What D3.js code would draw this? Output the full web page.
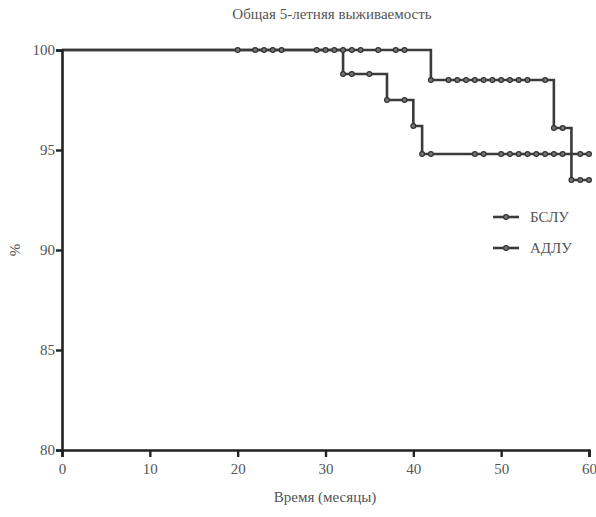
<!DOCTYPE html>
<html>
<head>
<meta charset="utf-8">
<script src="https://cdn.jsdelivr.net/npm/d3@7"></script>
<style>
  body { margin: 0; background: #fff; }
</style>
</head>
<body>
<div id="chart"></div>
<script>
let width = 596
let height = 517

// -- data
let seriesNames = ['БСЛУ', 'АДЛУ']
// steps: [time, survival %]
let bsluSteps = [[0, 100], [42, 98.5], [56, 96.1], [58, 93.5], [60, 93.5]]
let bsluCensored = [20, 22, 23, 24, 25, 29, 30, 31, 32, 33, 34, 36, 38, 39, 42, 44, 45, 46, 47, 48, 49, 50, 51, 52, 53, 55, 56, 57, 58, 59, 60]
let adluSteps = [[0, 100], [32, 98.8], [37, 97.5], [40, 96.2], [41, 94.8], [60, 94.8]]
let adluCensored = [32, 33, 35, 37, 39, 40, 41, 42, 47, 48, 50, 51, 52, 53, 54, 55, 56, 57, 59, 60]
let xTicks = [0, 10, 20, 30, 40, 50, 60]
let yTicks = [80, 85, 90, 95, 100]

let margin = {left: 62, right: 7, top: 50, bottom: 67}
let font = "'Liberation Serif'"
let textColor = '#555'

let svg = d3.select('#chart').append('svg')
  .attr('width', width)
  .attr('height', height)

let xScale = d3.scaleLinear().domain([0, 60]).range([margin.left, width - margin.right])
let yScale = d3.scaleLinear().domain([80, 100]).range([height - margin.bottom, margin.top])

// value at time t for a step curve
function stepValue(steps, t) {
  let v = steps[0][1]
  steps.forEach(s => { if (s[0] <= t) v = s[1] })
  return v
}

let line = d3.line()
  .x(d => xScale(d[0]))
  .y(d => yScale(d[1]))
  .curve(d3.curveStepAfter)

let series = [
  {name: seriesNames[0], steps: bsluSteps, cens: bsluCensored},
  {name: seriesNames[1], steps: adluSteps, cens: adluCensored}
]

let lineColor = '#3b3b3b'

series.forEach(s => {
  svg.append('path')
    .datum(s.steps)
    .attr('d', line)
    .attr('fill', 'none')
    .attr('stroke', lineColor)
    .attr('stroke-width', 2.6)
})

series.forEach(s => {
  svg.append('g').selectAll('circle')
    .data(s.cens)
    .enter()
    .append('circle')
    .attr('cx', d => xScale(d))
    .attr('cy', d => yScale(stepValue(s.steps, d)))
    .attr('r', 2.4)
    .attr('fill', '#777')
    .attr('stroke', '#333')
    .attr('stroke-width', 1.2)
})

// -- axes
let xAxis = d3.axisBottom(xScale).tickValues(xTicks).tickSize(7).tickFormat(d3.format('d'))
svg.append('g')
  .attr('transform', `translate(0, ${height - margin.bottom})`)
  .call(xAxis)
  .call(g => g.select('.domain').attr('stroke', '#222').attr('stroke-width', 2.6))
  .call(g => g.selectAll('.tick line').attr('stroke', '#222').attr('stroke-width', 2.4))
  .call(g => g.selectAll('.tick text').attr('dy', '0.9em')
    .style('font-family', font).style('font-size', '15px').style('fill', textColor))

let yAxis = d3.axisLeft(yScale).tickValues(yTicks).tickSize(6).tickFormat(d3.format('d'))
svg.append('g')
  .attr('transform', `translate(${margin.left}, 0)`)
  .call(yAxis)
  .call(g => g.select('.domain').attr('stroke', '#222').attr('stroke-width', 2.6))
  .call(g => g.selectAll('.tick line').attr('stroke', '#222').attr('stroke-width', 2.4))
  .call(g => g.selectAll('.tick text').attr('x', -7)
    .style('font-family', font).style('font-size', '15px').style('fill', textColor))

// -- labels
function label(x, y, txt, size) {
  return svg.append('text')
    .attr('x', x)
    .attr('y', y)
    .attr('text-anchor', 'middle')
    .style('font-family', font)
    .style('font-size', size + 'px')
    .style('fill', textColor)
    .text(txt)
}

label(332, 19, 'Общая 5-летняя выживаемость', 15)
label(325, 502, 'Время (месяцы)', 15)
label(0, 0, '%', 15).attr('transform', 'translate(20, 250) rotate(-90)')

// -- legend
let legend = svg.append('g')
series.forEach((s, i) => {
  let y = 217 + i * 31
  legend.append('line')
    .attr('x1', 493).attr('x2', 519)
    .attr('y1', y).attr('y2', y)
    .attr('stroke', lineColor)
    .attr('stroke-width', 2.6)
  legend.append('circle')
    .attr('cx', 506).attr('cy', y).attr('r', 2.4)
    .attr('fill', '#777').attr('stroke', '#333').attr('stroke-width', 1.2)
  legend.append('text')
    .attr('x', 530).attr('y', y + 5)
    .style('font-family', font)
    .style('font-size', '15px')
    .style('fill', textColor)
    .text(s.name)
})
</script>
</body>
</html>
